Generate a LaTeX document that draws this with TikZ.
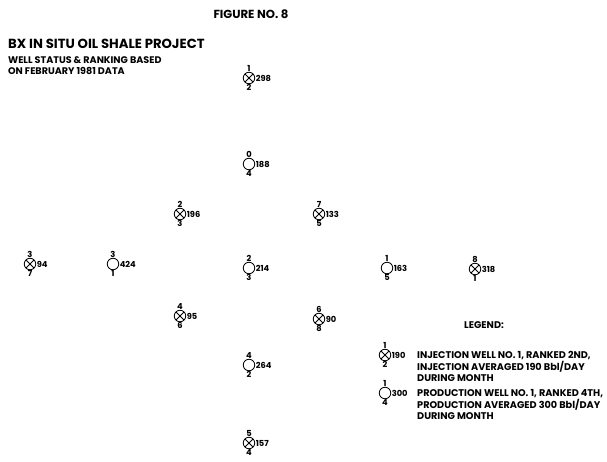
\documentclass[tikz,border=0pt]{standalone}
\usepackage{fontspec}
\setmainfont{Poppins}
\begin{document}
\begin{tikzpicture}[x=1pt,y=-1pt,
  every node/.style={font=\bfseries},
  lab/.style={inner sep=0.4pt,font=\fontsize{8.3}{9}\selectfont\bfseries},
  well/.style={circle,draw,line width=0.85pt,minimum size=11.5pt,inner sep=0pt,
    label distance=0.2pt},
  inj/.style={well,path picture={
    \draw[line width=0.85pt] (path picture bounding box.north west) -- (path picture bounding box.south east)
      (path picture bounding box.north east) -- (path picture bounding box.south west);}},
  prod/.style={well},
  W/.style n args={3}{label={[lab]above:#1},label={[lab]below:#2},label={[lab,label distance=0pt]right:#3}},
  txt/.style={inner sep=0pt,align=left,anchor=base west,
    font=\fontsize{9.7}{11.6}\selectfont\bfseries}
]
\useasboundingbox (0,0) rectangle (607,461);

\node[inner sep=0pt,anchor=base,font=\fontsize{11.7}{12}\selectfont\bfseries] (fig) at (251,18.2) {FIGURE NO. 8};
\node[inner sep=0pt,anchor=base west,font=\fontsize{13.2}{14}\selectfont\bfseries] (title) at (8,48.6) {BX IN SITU OIL SHALE PROJECT};
% anchor base west = baseline of the last line
\node[txt,font=\fontsize{9.6}{11}\selectfont\bfseries] (sub) at (8,74.4) {WELL STATUS \& RANKING BASED\\ON FEBRUARY 1981 DATA};

\node[inj,W={1}{2}{298}] (w298) at (249,78) {};
\node[prod,W={0}{4}{188}] (w188) at (249,164) {};
\node[inj,W={2}{3}{196}] (w196) at (180,214) {};
\node[inj,W={7}{5}{133}] (w133) at (319,214) {};
\node[inj,W={3}{7}{94}] (w94) at (30,264) {};
\node[prod,W={3}{1}{424}] (w424) at (113,264) {};
\node[prod,W={2}{3}{214}] (w214) at (249,268) {};
\node[prod,W={1}{5}{163}] (w163) at (387,268) {};
\node[inj,W={8}{1}{318}] (w318) at (475,269) {};
\node[inj,W={4}{6}{95}] (w95) at (180,316) {};
\node[inj,W={6}{8}{90}] (w90) at (319,319) {};
\node[prod,W={4}{2}{264}] (w264) at (249,365) {};
\node[inj,W={5}{4}{157}] (w157) at (249,443) {};

\node[inner sep=0pt,font=\fontsize{9.7}{10}\selectfont\bfseries] (legend) at (484,325) {LEGEND:};
\node[inj,W={1}{2}{190}] (linj) at (385,355) {};
\node[txt] (linjtxt) at (417,381.6) {INJECTION WELL NO. 1, RANKED 2ND,\\INJECTION AVERAGED 190 Bbl/DAY\\DURING MONTH};
\node[prod,W={1}{4}{300}] (lprod) at (385,393) {};
\node[txt] (lprodtxt) at (417,419.6) {PRODUCTION WELL NO. 1, RANKED 4TH,\\PRODUCTION AVERAGED 300 Bbl/DAY\\DURING MONTH};
\end{tikzpicture}
\end{document}
